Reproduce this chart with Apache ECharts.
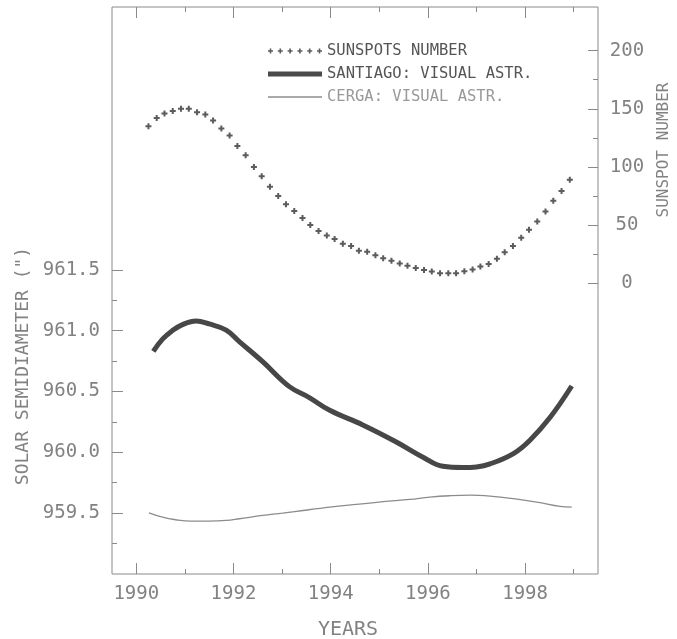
<!DOCTYPE html>
<html><head><meta charset="utf-8">
<script src="https://cdn.jsdelivr.net/npm/echarts@6/dist/echarts.min.js"></script>
<style>html,body{margin:0;padding:0;background:#fff}#c{width:677px;height:639px}</style>
</head><body><div id="c"></div>
<script>
// ---- data ----
const sunspotYears = [1990.25,1990.42,1990.58,1990.75,1990.92,1991.08,1991.25,1991.42,1991.58,1991.75,1991.92,
  1992.08,1992.25,1992.42,1992.58,1992.75,1992.92,1993.08,1993.25,1993.42,1993.58,1993.75,1993.92,
  1994.08,1994.25,1994.42,1994.58,1994.75,1994.92,1995.08,1995.25,1995.42,1995.58,1995.75,1995.92,
  1996.08,1996.25,1996.42,1996.58,1996.75,1996.92,1997.08,1997.25,1997.42,1997.58,1997.75,1997.92,
  1998.08,1998.25,1998.42,1998.58,1998.75,1998.92];
const sunspotValues = [135,142,146,148,150,150,147,145,140,133,127,
  118,110,100,92,83,75,68,62,56,50,45,41,
  38,34,32,28,27,24,21.5,19.4,17,15,13,11.4,
  10,8.6,8.6,8.6,10.3,11.7,14.3,16.6,21,26.7,32,39,
  46,53,61.6,71,79.4,89];
const santiagoYears = [1990.35,1990.54,1990.74,1990.95,1991.23,1991.50,1991.85,1992.12,1992.60,1993.15,1993.56,1993.98,
  1994.66,1995.35,1995.90,1996.31,1996.73,1997.00,1997.28,1997.76,1998.10,1998.52,1998.96];
const santiagoValues = [960.83,960.93,961.00,961.05,961.08,961.055,961.005,960.91,960.745,960.54,960.45,960.345,
  960.225,960.085,959.96,959.885,959.875,959.88,959.905,959.99,960.10,960.29,960.545];
const cergaYears = [1990.26,1990.54,1990.81,1991.12,1991.50,1991.85,1992.12,1992.60,1993.01,1993.43,1993.98,1994.53,
  1995.08,1995.63,1996.04,1996.45,1996.87,1997.28,1997.76,1998.24,1998.72,1998.96];
const cergaValues = [959.503,959.467,959.446,959.434,959.434,959.44,959.454,959.481,959.50,959.522,959.549,959.572,
  959.594,959.613,959.632,959.643,959.648,959.64,959.619,959.591,959.555,959.549];
const yearMajor = [1990,1992,1994,1996,1998];
const yearMinor = [1991,1993,1995,1997,1999];
const radiusMajor = [959.5,960.0,960.5,961.0,961.5];
const radiusMinor = [959.25,959.75,960.25,960.75,961.25];
const spotMajor = [0,50,100,150,200];
const spotMinor = [25,75,125,175];
const seriesNames = ['SUNSPOTS NUMBER','SANTIAGO: VISUAL ASTR.','CERGA: VISUAL ASTR.'];

// ---- styles ----
const FONT = 'DejaVu Sans Mono';
const AX = '#8a8a8a';
const TXT = '#828282';
const PLUS = 'path://M2,0H4V2H6V4H4V6H2V4H0V2H2Z';
let legendPath = 'path://';
for (let i = 0; i < 6; i++) {
  const cx = 2.5 + 9.8 * i;
  legendPath += `M${cx-0.8},0H${cx+0.8}V1.7H${cx+2.5}V3.3H${cx+0.8}V5H${cx-0.8}V3.3H${cx-2.5}V1.7H${cx-0.8}Z`;
}
const thickIcon = 'path://M0,0H54V5H0Z';
const thinIcon = 'path://M0,0H54V1.3H0Z';

function xAx(pos, ticks, len, labels) {
  return {
    type: 'value', position: pos, min: 1989.5, max: 1999.5,
    axisLine: { show: false, onZero: false },
    splitLine: { show: false },
    axisTick: { show: true, inside: true, length: len, customValues: ticks, lineStyle: { color: AX, width: 1 } },
    axisLabel: labels ? { show: true, customValues: ticks, margin: 11, color: TXT, fontFamily: FONT, fontSize: 19,
      formatter: v => String(Math.round(v)) } : { show: false }
  };
}
function yAx(pos, min, max, ticks, len, labels) {
  return {
    type: 'value', position: pos, min: min, max: max,
    axisLine: { show: false, onZero: false },
    splitLine: { show: false },
    axisTick: { show: true, inside: true, length: len, customValues: ticks, lineStyle: { color: AX, width: 1 } },
    axisLabel: labels || { show: false }
  };
}

const chart = echarts.init(document.getElementById('c'), null, { renderer: 'canvas' });
chart.setOption({
  animation: false,
  backgroundColor: '#fff',
  grid: { left: 112, right: 79, top: 7, bottom: 65, show: true, borderColor: AX, borderWidth: 1, backgroundColor: 'transparent' },
  xAxis: [
    xAx('bottom', yearMajor, 11, true),
    xAx('bottom', yearMinor, 5, false),
    xAx('top', yearMajor, 11, false),
    xAx('top', yearMinor, 5, false)
  ],
  yAxis: [
    yAx('left', 959, 963.66, radiusMajor, 11, { show: true, customValues: radiusMajor, margin: 12, color: TXT,
      fontFamily: FONT, fontSize: 19, formatter: v => v.toFixed(1) }),
    yAx('left', 959, 963.66, radiusMinor, 5, null),
    yAx('right', -250, 237.5, spotMajor, 10, { show: true, customValues: spotMajor, margin: 29, align: 'center',
      color: TXT, fontFamily: FONT, fontSize: 19, formatter: v => String(Math.round(v)) }),
    yAx('right', -250, 237.5, spotMinor, 5, null)
  ],
  legend: {
    orient: 'vertical', left: 263, top: 38, itemWidth: 54, itemHeight: 8, itemGap: 7,
    selectedMode: false,
    textStyle: { fontFamily: FONT, fontSize: 15.5, color: '#555', lineHeight: 16 },
    data: [
      { name: seriesNames[0], icon: legendPath, itemStyle: { color: '#333' }, textStyle: { color: '#555' } },
      { name: seriesNames[1], icon: thickIcon, itemStyle: { color: '#4a4a4a' }, textStyle: { color: '#555' } },
      { name: seriesNames[2], icon: thinIcon, itemStyle: { color: '#8c8c8c' }, textStyle: { color: '#999' } }
    ]
  },
  graphic: [
    { type: 'text', x: 23, y: 366, rotation: Math.PI / 2,
      style: { text: 'SOLAR SEMIDIAMETER (")', fill: TXT, font: `18px "${FONT}"`, align: 'center', verticalAlign: 'middle' } },
    { type: 'text', x: 664, y: 150, rotation: Math.PI / 2,
      style: { text: 'SUNSPOT NUMBER', fill: TXT, font: `16px "${FONT}"`, align: 'center', verticalAlign: 'middle' } },
    { type: 'text', x: 348, y: 630,
      style: { text: 'YEARS', fill: TXT, font: `20px "${FONT}"`, align: 'center', verticalAlign: 'middle' } }
  ],
  series: [
    { name: seriesNames[0], type: 'scatter', xAxisIndex: 0, yAxisIndex: 2,
      symbol: PLUS, symbolSize: 6, itemStyle: { color: '#333' },
      data: sunspotYears.map((y, i) => [y, sunspotValues[i]]) },
    { name: seriesNames[1], type: 'line', xAxisIndex: 0, yAxisIndex: 0, smooth: 0.4, showSymbol: false, symbol: 'none',
      lineStyle: { width: 5, color: '#474747' }, itemStyle: { color: '#474747' },
      data: santiagoYears.map((y, i) => [y, santiagoValues[i]]) },
    { name: seriesNames[2], type: 'line', xAxisIndex: 0, yAxisIndex: 0, smooth: 0.4, showSymbol: false, symbol: 'none',
      lineStyle: { width: 1.3, color: '#8c8c8c' }, itemStyle: { color: '#8c8c8c' },
      data: cergaYears.map((y, i) => [y, cergaValues[i]]) }
  ]
});
</script>
</body></html>
